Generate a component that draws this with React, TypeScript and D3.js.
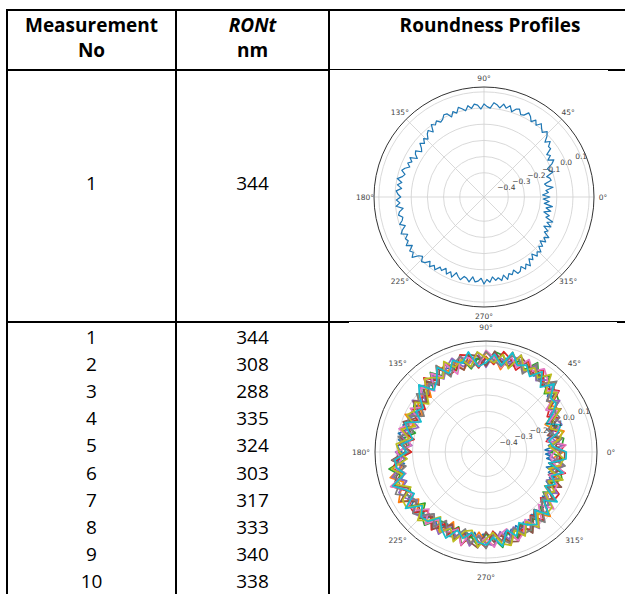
import React, { useEffect, useRef } from "react";
import * as d3 from "d3";

// Table: measurement number, RONt (nm) and roundness profiles (polar plots)

const headerCol1 = ["Measurement", "No"];
const headerCol2 = ["RONt", "nm"];
const headerCol3 = ["Roundness Profiles"];

const singleNo = [1];
const singleRont = [344];

const measurementNos = [1, 2, 3, 4, 5, 6, 7, 8, 9, 10];
const rontValues = [344, 308, 288, 335, 324, 303, 317, 333, 340, 338];

const radialTicks = [-0.4, -0.3, -0.2, -0.1, 0.0, 0.1];
const angleTicks = [0, 45, 90, 135, 180, 225, 270, 315];

// measurement 1, sampled every 2 degrees
const profile1 = [
  -0.143, -0.188, -0.151, -0.165, -0.119, -0.156, -0.167, -0.122, -0.127, -0.143,
  -0.095, -0.116, -0.120, -0.083, -0.061, -0.094, -0.066, -0.082, -0.041, -0.044,
  -0.016, -0.043, -0.009, 0.012, -0.012, 0.004, 0.025, -0.002, 0.023, -0.001,
  0.025, 0.039, 0.013, 0.008, 0.036, 0.028, 0.004, 0.037, 0.016, 0.037,
  0.009, 0.026, 0.036, 0.001, 0.009, 0.025, -0.006, 0.019, 0.027, 0.003,
  0.023, -0.005, 0.012, 0.026, -0.005, 0.012, -0.016, 0.013, 0.016, -0.006,
  -0.015, 0.005, -0.013, 0.004, -0.040, -0.013, -0.026, -0.052, -0.031, -0.055,
  -0.033, -0.059, -0.074, -0.040, -0.050, -0.074, -0.032, -0.054, -0.034, -0.055,
  -0.030, -0.016, -0.042, -0.030, -0.002, -0.034, -0.010, -0.038, -0.006, -0.017,
  -0.035, -0.008, -0.029, -0.004, -0.045, -0.019, -0.010, -0.033, -0.024, -0.002,
  -0.032, -0.006, 0.011, -0.025, 0.000, -0.009, 0.017, -0.015, 0.018, 0.005,
  0.030, -0.007, -0.022, 0.006, -0.004, -0.031, -0.004, -0.027, -0.007, -0.039,
  -0.025, -0.050, -0.020, -0.044, -0.016, -0.052, -0.033, -0.018, -0.044, -0.036,
  -0.017, -0.052, -0.022, -0.029, -0.047, -0.012, -0.040, -0.022, -0.053, -0.029,
  -0.043, -0.022, -0.052, -0.020, -0.052, -0.039, -0.063, -0.033, -0.039, -0.063,
  -0.036, -0.061, -0.037, -0.077, -0.059, -0.090, -0.058, -0.078, -0.061, -0.094,
  -0.077, -0.110, -0.079, -0.103, -0.077, -0.119, -0.102, -0.138, -0.097, -0.130,
  -0.098, -0.147, -0.130, -0.168, -0.128, -0.160, -0.123, -0.175, -0.146, -0.184,
];

// measurements 2..10, sampled every 5 degrees
const profile2 = [
  -0.076, -0.158, -0.108, -0.055, -0.122, -0.150, -0.029, -0.055, -0.057, 0.056, 0.002, 0.047,
  -0.010, 0.063, 0.021, 0.082, -0.037, 0.035, 0.058, -0.011, 0.026, -0.029, 0.039, -0.004,
  0.058, -0.036, 0.011, -0.075, -0.010, -0.042, -0.105, -0.004, -0.077, -0.015, -0.092, -0.037,
  -0.090, 0.020, -0.024, 0.057, -0.013, 0.028, 0.068, -0.046, -0.001, -0.049, 0.021, -0.040,
  0.025, -0.078, 0.014, -0.018, 0.029, -0.057, 0.006, 0.023, -0.051, 0.041, -0.037, -0.014,
  -0.066, 0.002, -0.055, 0.007, -0.098, -0.045, -0.135, -0.056, -0.093, -0.144, -0.070, -0.136,
];
const profile3 = [
  -0.152, -0.083, -0.067, -0.141, -0.086, -0.139, -0.086, -0.006, 0.010, -0.045, 0.057, 0.012,
  0.082, 0.008, 0.045, -0.015, 0.051, 0.067, -0.018, 0.026, -0.033, 0.044, -0.020, 0.055,
  -0.013, 0.045, -0.048, -0.006, -0.086, -0.013, -0.038, -0.090, -0.014, -0.102, -0.042, -0.081,
  -0.009, -0.057, 0.053, -0.005, 0.042, -0.035, -0.021, 0.038, -0.063, 0.006, 0.035, -0.042,
  -0.050, -0.004, -0.062, 0.035, -0.025, 0.028, -0.047, -0.018, 0.043, -0.040, 0.013, -0.065,
  0.018, -0.052, 0.005, -0.080, -0.045, -0.123, -0.049, -0.106, -0.054, -0.078, -0.155, -0.079,
];
const profile4 = [
  -0.102, -0.064, -0.175, -0.087, -0.138, -0.059, -0.117, -0.072, 0.034, -0.005, -0.011, 0.066,
  0.015, 0.068, -0.016, 0.038, 0.074, -0.011, 0.035, -0.033, 0.051, 0.066, -0.013, -0.028,
  0.041, -0.015, 0.043, -0.058, -0.032, -0.096, -0.022, -0.083, -0.045, -0.004, -0.103, -0.019,
  -0.093, -0.005, 0.031, -0.028, 0.066, 0.002, -0.036, 0.023, 0.028, -0.041, -0.025, 0.033,
  -0.043, 0.011, -0.056, 0.043, -0.041, -0.002, 0.036, -0.063, 0.005, -0.048, 0.028, -0.028,
  -0.005, -0.076, -0.002, -0.058, -0.113, -0.039, -0.034, -0.121, -0.115, -0.047, -0.148, -0.095,
];
const profile5 = [
  -0.167, -0.081, -0.127, -0.146, -0.056, -0.076, -0.099, 0.001, -0.064, 0.032, 0.027, -0.016,
  0.059, -0.014, 0.081, 0.008, 0.027, 0.056, -0.031, 0.064, 0.006, -0.009, 0.061, 0.024,
  -0.034, 0.022, -0.017, 0.024, -0.069, 0.001, -0.074, -0.024, -0.111, -0.043, -0.021, -0.094,
  0.004, -0.049, -0.014, 0.046, -0.031, 0.039, 0.017, -0.036, 0.034, 0.012, -0.054, -0.006,
  0.031, -0.056, -0.003, -0.032, 0.034, -0.039, 0.012, 0.026, -0.054, 0.004, -0.061, 0.009,
  -0.049, 0.021, -0.076, -0.028, -0.053, -0.114, -0.044, -0.141, -0.071, -0.107, -0.066, -0.139,
];
const profile6 = [
  -0.067, -0.122, -0.085, -0.160, -0.094, -0.111, -0.020, -0.086, -0.006, 0.038, -0.023, 0.027,
  0.002, 0.044, 0.073, -0.006, 0.006, 0.070, -0.023, 0.041, 0.056, -0.030, 0.017, 0.038,
  0.024, -0.050, 0.018, -0.013, -0.076, -0.007, -0.088, -0.067, -0.010, -0.071, -0.014, -0.064,
  -0.054, 0.030, -0.043, 0.017, 0.048, -0.026, 0.053, -0.021, -0.017, 0.026, -0.038, 0.023,
  -0.013, -0.063, 0.026, -0.038, 0.011, 0.040, -0.060, 0.004, -0.031, 0.018, 0.033, -0.056,
  0.023, -0.044, -0.090, -0.014, -0.081, -0.056, -0.116, -0.040, -0.143, -0.093, -0.138, -0.067,
];
const profile7 = [
  -0.130, -0.058, -0.165, -0.101, -0.067, -0.128, -0.048, -0.102, 0.025, -0.020, 0.035, 0.072,
  0.021, 0.075, 0.000, 0.052, -0.025, 0.029, 0.072, -0.018, 0.035, 0.050, -0.042, 0.048,
  -0.020, 0.038, -0.062, 0.010, -0.025, -0.072, -0.015, -0.105, -0.051, 0.002, -0.065, -0.088,
  -0.002, -0.029, 0.015, -0.042, 0.072, -0.012, -0.028, 0.030, 0.005, -0.055, 0.028, -0.050,
  0.010, -0.011, -0.048, 0.042, -0.055, 0.012, -0.025, 0.035, -0.040, -0.062, 0.028, -0.005,
  -0.072, 0.008, -0.025, -0.095, -0.008, -0.100, -0.071, -0.068, -0.138, -0.055, -0.125, -0.155,
];
const profile8 = [
  -0.088, -0.148, -0.075, -0.125, -0.152, -0.052, -0.063, -0.020, -0.065, 0.062, -0.002, -0.010,
  0.075, -0.022, 0.052, 0.060, -0.018, 0.013, 0.065, -0.002, -0.025, 0.058, 0.025, -0.042,
  0.062, -0.038, -0.003, -0.050, 0.005, -0.065, -0.112, -0.030, -0.038, -0.088, -0.005, -0.043,
  -0.078, 0.025, -0.052, 0.032, 0.013, 0.062, -0.012, -0.030, 0.035, -0.003, -0.055, 0.010,
  -0.065, 0.018, 0.005, -0.062, 0.020, -0.032, 0.042, -0.040, -0.003, 0.028, -0.055, 0.002,
  0.002, -0.068, 0.012, -0.065, -0.105, -0.032, -0.102, -0.135, -0.070, -0.130, -0.058, -0.117,
];
const profile9 = [
  -0.117, -0.162, -0.090, -0.065, -0.130, -0.097, -0.025, -0.080, 0.018, -0.035, 0.072, 0.005,
  0.045, 0.000, 0.082, -0.022, 0.058, -0.002, 0.027, 0.065, -0.018, 0.035, 0.003, 0.062,
  -0.028, 0.007, 0.035, -0.035, -0.092, -0.020, -0.045, -0.015, -0.090, -0.012, -0.072, 0.002,
  -0.018, -0.065, 0.038, -0.020, 0.035, -0.042, 0.040, 0.045, -0.048, 0.042, -0.003, -0.065,
  0.018, -0.035, 0.035, -0.048, -0.062, 0.035, -0.017, -0.055, 0.020, 0.042, -0.040, 0.018,
  -0.058, 0.015, -0.062, -0.020, -0.022, -0.108, -0.065, -0.128, -0.048, -0.152, -0.088, -0.072,
];
const profile10 = [
  -0.058, -0.140, -0.158, -0.095, -0.062, -0.142, -0.077, -0.028, -0.035, 0.040, -0.032, 0.050,
  -0.015, 0.037, 0.015, 0.082, -0.010, 0.050, -0.002, -0.025, 0.072, 0.013, 0.048, -0.020,
  0.048, -0.022, -0.055, 0.032, -0.018, -0.080, -0.053, -0.112, -0.022, -0.057, -0.095, -0.028,
  -0.062, 0.010, 0.007, -0.035, 0.058, -0.005, -0.042, 0.052, -0.040, 0.012, 0.005, -0.058,
  -0.005, 0.032, -0.040, -0.003, -0.048, 0.005, 0.020, -0.025, 0.035, -0.055, -0.003, -0.072,
  -0.035, -0.008, -0.085, -0.005, -0.090, -0.018, -0.132, -0.083, -0.122, -0.062, -0.155, -0.058,
];

const allProfiles = [profile1, profile2, profile3, profile4, profile5, profile6, profile7, profile8, profile9, profile10];

const drawPolar = (g, { cx, cy, radius, labelRadius, profiles, colors, lineWidth }) => {
  const r = d3.scaleLinear().domain([-0.55, 0.13]).range([0, radius]);
  const root = g.append("g").attr("transform", `translate(${cx},${cy})`);

  // gridlines
  root.append("g")
    .selectAll("circle")
    .data(radialTicks)
    .join("circle")
    .attr("r", d => r(d))
    .attr("fill", "none")
    .attr("stroke", "#cfcfcf")
    .attr("stroke-width", 0.8);

  root.append("g")
    .selectAll("line")
    .data(angleTicks)
    .join("line")
    .attr("x1", 0)
    .attr("y1", 0)
    .attr("x2", d => radius * Math.cos((d * Math.PI) / 180))
    .attr("y2", d => -radius * Math.sin((d * Math.PI) / 180))
    .attr("stroke", "#cfcfcf")
    .attr("stroke-width", 0.8);

  // profiles
  profiles.forEach((values, k) => {
    const step = (2 * Math.PI) / values.length;
    const line = d3.lineRadial()
      .angle((d, i) => Math.PI / 2 - i * step)
      .radius(d => r(d))
      .curve(d3.curveLinearClosed);
    root.append("path")
      .attr("d", line(values))
      .attr("fill", "none")
      .attr("stroke", colors[k])
      .attr("stroke-width", lineWidth)
      .attr("stroke-linejoin", "round");
  });

  // outer frame
  root.append("circle")
    .attr("r", radius)
    .attr("fill", "none")
    .attr("stroke", "#333")
    .attr("stroke-width", 1);

  // angle labels
  root.append("g")
    .selectAll("text")
    .data(angleTicks)
    .join("text")
    .attr("x", d => labelRadius * Math.cos((d * Math.PI) / 180))
    .attr("y", d => -labelRadius * Math.sin((d * Math.PI) / 180))
    .attr("text-anchor", "middle")
    .attr("dominant-baseline", "central")
    .attr("font-family", "DejaVu Sans")
    .attr("font-size", 7.5)
    .attr("fill", "#444")
    .text(d => `${d}°`);

  // radial labels at 22.5 degrees
  const a = (22.5 * Math.PI) / 180;
  root.append("g")
    .selectAll("text")
    .data(radialTicks)
    .join("text")
    .attr("x", d => r(d) * Math.cos(a))
    .attr("y", d => -r(d) * Math.sin(a))
    .attr("text-anchor", "middle")
    .attr("dominant-baseline", "central")
    .attr("font-family", "DejaVu Sans")
    .attr("font-size", 7.5)
    .attr("fill", "#444")
    .text(d => d3.format(".1f")(d).replace("-", "−"));
};

const App = () => {
  const svgRef = useRef();

  useEffect(() => {
    const width = 625;
    const height = 594;
    const svg = d3.select(svgRef.current);
    svg.selectAll("*").remove();

    const col = { left: 7, c1: 176, c2: 329, right: 651 };
    const headerTop = 10;
    const headerBottom = 70;
    const rowSplit = 322;
    const font = "'Open Sans', sans-serif";
    const fs = 19;

    svg.append("rect").attr("width", width).attr("height", height).attr("fill", "#fff");

    // table rules
    const rules = svg.append("g").attr("stroke", "#000").attr("stroke-width", 2);
    [headerTop, headerBottom, rowSplit].forEach(y => {
      rules.append("line").attr("x1", col.left - 1).attr("x2", width).attr("y1", y).attr("y2", y);
    });
    [col.left, col.c1, col.c2].forEach(x => {
      rules.append("line").attr("x1", x).attr("x2", x).attr("y1", headerTop - 1).attr("y2", height);
    });

    // pasted plot images cover part of the rules
    svg.append("rect").attr("x", 330).attr("y", 70).attr("width", 278).attr("height", 248).attr("fill", "#fff");
    svg.append("rect").attr("x", 349).attr("y", 322).attr("width", 268).attr("height", 272).attr("fill", "#fff");

    const mid1 = (col.left + col.c1) / 2;
    const mid2 = (col.c1 + col.c2) / 2;
    const mid3 = (col.c2 + col.right) / 2;

    const head = svg.append("g").attr("font-family", font).attr("font-size", fs).attr("font-weight", 700)
      .attr("text-anchor", "middle").attr("fill", "#000");
    headerCol1.forEach((t, i) => head.append("text").attr("x", mid1).attr("y", 32 + i * 25).text(t));
    headerCol2.forEach((t, i) => head.append("text").attr("x", mid2).attr("y", 32 + i * 25)
      .attr("font-style", i === 0 ? "italic" : "normal").text(t));
    headerCol3.forEach((t, i) => head.append("text").attr("x", mid3).attr("y", 32 + i * 25).text(t));

    const body = svg.append("g").attr("font-family", font).attr("font-size", fs)
      .attr("text-anchor", "middle").attr("fill", "#000");

    singleNo.forEach((d, i) => {
      body.append("text").attr("x", mid1).attr("y", 190).text(d);
      body.append("text").attr("x", mid2).attr("y", 190).text(singleRont[i]);
    });

    const y = d3.scaleLinear().domain([0, measurementNos.length - 1]).range([344, 588]);
    body.append("g").selectAll("text").data(measurementNos).join("text")
      .attr("x", mid1).attr("y", (d, i) => y(i)).text(d => d);
    body.append("g").selectAll("text").data(rontValues).join("text")
      .attr("x", mid2).attr("y", (d, i) => y(i)).text(d => d);

    const colors = d3.schemeCategory10;

    drawPolar(svg, { cx: 484, cy: 197, radius: 110, labelRadius: 119, profiles: [profile1], colors, lineWidth: 1.2 });
    drawPolar(svg, { cx: 486, cy: 452, radius: 111, labelRadius: 125, profiles: allProfiles, colors, lineWidth: 1.7 });
  }, []);

  return <svg ref={svgRef} width={625} height={594} style={{ position: "absolute", left: 0, top: 0 }}></svg>;
};

export default App;
